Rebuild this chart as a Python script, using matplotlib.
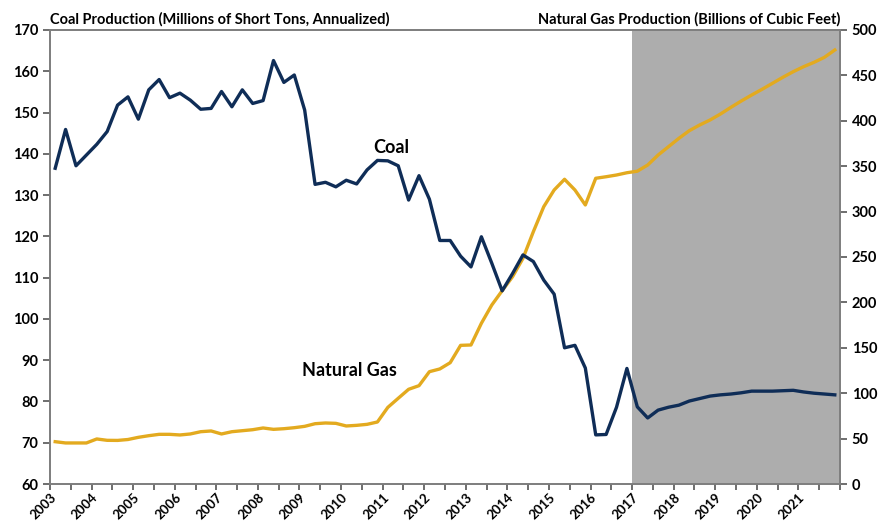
import numpy as np
import matplotlib.pyplot as plt
from matplotlib.ticker import MultipleLocator

plt.rcParams['font.family'] = ['Lato', 'DejaVu Sans']

# quarterly data, 2003Q1 .. 2021Q4
coal = [136.5, 145.9, 137.1, 139.7, 142.3, 145.4, 151.8, 153.8, 148.4, 155.5,
        158.0, 153.6, 154.7, 153.0, 150.8, 151.0, 155.1, 151.4, 155.5, 152.2,
        152.9, 162.6, 157.3, 159.1, 150.6, 132.6, 133.1, 132.0, 133.6, 132.7,
        136.1, 138.4, 138.3, 137.1, 128.8, 134.7, 129.0, 119.0, 119.0, 115.2,
        112.6, 119.9, 113.5, 106.8, 111.0, 115.5, 113.9, 109.4, 106.0, 93.0,
        93.6, 88.1, 71.9, 72.0, 78.6, 88.0, 78.7, 76.0, 77.9, 78.6,
        79.1, 80.1, 80.7, 81.3, 81.6, 81.8, 82.1, 82.5, 82.5, 82.5,
        82.6, 82.7, 82.3, 82.0, 81.8, 81.6]
gas = [46.6, 45.2, 45.2, 45.2, 49.6, 48.1, 48.0, 49.0, 51.4, 53.2,
       54.7, 54.7, 54.0, 55.1, 57.6, 58.4, 55.1, 57.6, 58.7, 59.8,
       61.7, 60.2, 60.9, 62.0, 63.5, 66.4, 67.2, 66.8, 63.9, 64.6,
       65.7, 68.3, 84.4, 94.4, 104.3, 108.3, 123.7, 126.7, 133.6, 152.7,
       153.1, 177.0, 197.1, 212.9, 228.3, 248.5, 277.9, 305.4, 323.8, 335.6,
       323.8, 307.3, 336.7, 338.4, 340.3, 342.8, 344.5, 351.3, 362.3, 371.5,
       380.7, 389.1, 395.4, 400.9, 407.5, 414.8, 421.8, 428.4, 434.7, 441.3,
       447.9, 454.1, 459.6, 464.4, 469.9, 478.0]
start_year = 2003
years = list(range(2003, 2023))
year_labels = [str(y) for y in range(2003, 2022)] + ['']
forecast_start = 2017

x = start_year + (np.arange(len(coal)) + 0.5) * 0.25

navy = '#0f2d57'
gold = '#e3aa1f'
axis_gray = '#7f7f7f'

fig = plt.figure(figsize=(8.81, 5.26), dpi=100)
ax = fig.add_axes([50 / 881, 1 - 484 / 526, 790 / 881, 454 / 526])
ax2 = ax.twinx()

# shaded forecast period, drawn on the back axes so both lines sit on top
ax2.axvspan(forecast_start, years[-1], color='#adadad', lw=0, zorder=0)
ax2.plot(x, gas, color=gold, lw=2.4, solid_joinstyle='round', zorder=2)
ax.plot(x, coal, color=navy, lw=2.4, solid_joinstyle='round', zorder=3)
ax.set_zorder(ax2.get_zorder() + 1)
ax.patch.set_visible(False)

ax.set_xlim(years[0], years[-1])
ax.set_ylim(60, 170)
ax2.set_ylim(0, 500)
ax.yaxis.set_major_locator(MultipleLocator(10))
ax2.yaxis.set_major_locator(MultipleLocator(50))
ax.set_xticks(years)
ax.set_xticklabels(year_labels, rotation=45, ha='right', rotation_mode='anchor')
ax.xaxis.set_minor_locator(MultipleLocator(0.5))

for a in (ax, ax2):
    for s in a.spines.values():
        s.set_color(axis_gray)
        s.set_linewidth(1.3)
    a.tick_params(which='both', length=5, width=1.2, color='#555555',
                  labelsize=10.5, labelcolor='black')
for lab in ax.get_xticklabels() + ax.get_yticklabels() + ax2.get_yticklabels():
    lab.set_fontweight('bold')
ax.tick_params(axis='x', which='both', length=4, pad=1, labelsize=9.5)

ax.text(0, 1.008, 'Coal Production (Millions of Short Tons, Annualized)',
        transform=ax.transAxes, ha='left', va='bottom', fontsize=10.5, fontweight='bold')
ax.text(1, 1.008, 'Natural Gas Production (Billions of Cubic Feet)',
        transform=ax.transAxes, ha='right', va='bottom', fontsize=10.5, fontweight='bold')

ax.text(2011.2, 141.5, 'Coal', ha='center', va='center', fontsize=13, fontweight='bold')
ax.text(2010.2, 87.5, 'Natural Gas', ha='center', va='center', fontsize=13, fontweight='bold')

fig.savefig('out.png', dpi=100)
